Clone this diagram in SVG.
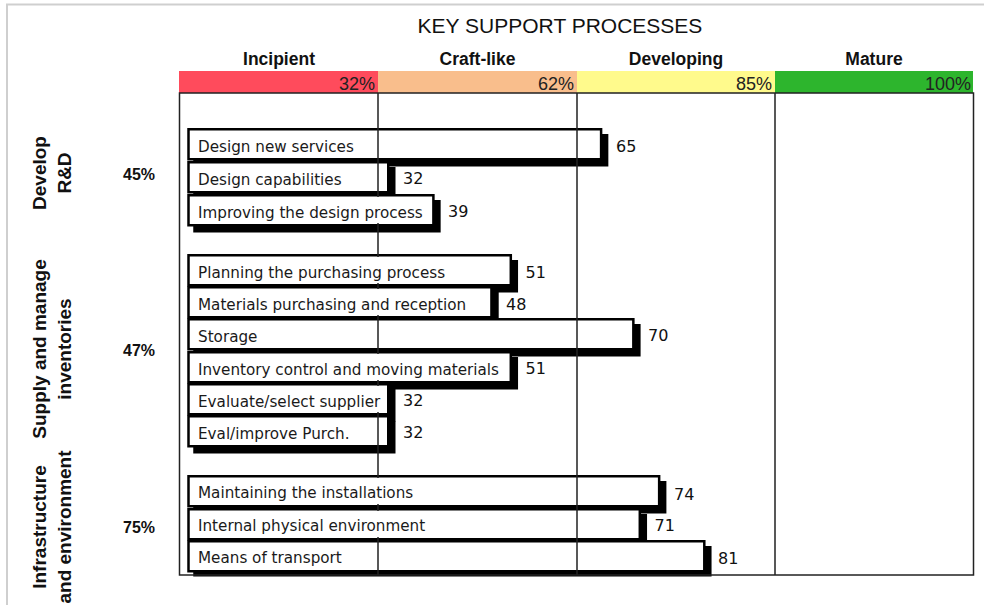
<svg xmlns="http://www.w3.org/2000/svg" width="984" height="605" viewBox="0 0 984 605">
<style>
.frame{fill:none;stroke:#cfcfcf;stroke-width:2}
.title{font-family:"Liberation Sans",Arial,sans-serif;font-size:21px;fill:#111;text-anchor:middle}
.hdr{font-family:"Liberation Sans",Arial,sans-serif;font-size:17.5px;font-weight:bold;fill:#111;text-anchor:middle}
.band{font-family:"Liberation Sans",Arial,sans-serif;font-size:18px;fill:#222;text-anchor:end}
.grp{font-family:"Liberation Sans",Arial,sans-serif;font-size:19px;font-weight:bold;fill:#111;text-anchor:middle}
.pct{font-family:"Liberation Sans",Arial,sans-serif;font-size:16px;font-weight:bold;fill:#111}
.grid{stroke:#222;stroke-width:1.5;fill:none}
.shadow{fill:#000;stroke:#000;stroke-width:2.5}
.bar{fill:#fff;stroke:#000;stroke-width:2.5}
.patch{fill:#fff}
.bt{font-family:"DejaVu Sans",Verdana,sans-serif;font-size:15.2px;fill:#1a1a1a}
.val{font-family:"DejaVu Sans",Verdana,sans-serif;font-size:16px;fill:#111}
</style>
<rect width="984" height="605" fill="#fff"/>
<path class="frame" d="M7 605V4.5H984"/>
<text class="title" x="560" y="33">KEY SUPPORT PROCESSES</text>
<g id="scale">
<rect x="179" y="71" width="199" height="22" fill="#ff4b5c"/>
<rect x="378" y="71" width="199" height="22" fill="#f9be8c"/>
<rect x="577" y="71" width="198" height="22" fill="#fffa8c"/>
<rect x="775" y="71" width="198" height="22" fill="#2db52d"/>
<text class="hdr" x="279" y="65">Incipient</text>
<text class="hdr" x="477.5" y="65">Craft-like</text>
<text class="hdr" x="676" y="65">Developing</text>
<text class="hdr" x="874" y="65">Mature</text>
<text class="band" x="375" y="90">32%</text>
<text class="band" x="574" y="90">62%</text>
<text class="band" x="772" y="90">85%</text>
<text class="band" x="971" y="90">100%</text>
</g>
<g id="groups">
<text class="grp" transform="translate(46,173) rotate(-90)">Develop</text>
<text class="grp" transform="translate(71,173) rotate(-90)">R&amp;D</text>
<text class="pct" x="123" y="180">45%</text>
<text class="grp" transform="translate(46,349) rotate(-90)">Supply and manage</text>
<text class="grp" transform="translate(71,349) rotate(-90)">inventories</text>
<text class="pct" x="123" y="356">47%</text>
<text class="grp" transform="translate(46,527) rotate(-90)">Infrastructure</text>
<text class="grp" transform="translate(71,527) rotate(-90)">and environment</text>
<text class="pct" x="123" y="533">75%</text>
</g>
<g id="bars">
<g id="b1"><rect class="shadow" x="194.5" y="135.25" width="412.6" height="30"/><rect class="bar" x="188.5" y="129.25" width="412.6" height="30"/></g>
<g id="b2"><rect class="shadow" x="194.5" y="168.25" width="199.75" height="30"/><rect class="bar" x="188.5" y="162.25" width="199.75" height="30"/></g>
<g id="b3"><rect class="shadow" x="194.5" y="201.25" width="244.9" height="30"/><rect class="bar" x="188.5" y="195.25" width="244.9" height="30"/></g>
<g id="b4"><rect class="shadow" x="194.5" y="261.25" width="322.3" height="30"/><rect class="bar" x="188.5" y="255.25" width="322.3" height="30"/></g>
<g id="b5"><rect class="shadow" x="194.5" y="293.25" width="302.95" height="30"/><rect class="bar" x="188.5" y="287.25" width="302.95" height="30"/></g>
<g id="b6"><rect class="shadow" x="194.5" y="325.25" width="444.85" height="30"/><rect class="bar" x="188.5" y="319.25" width="444.85" height="30"/></g>
<g id="b7"><rect class="shadow" x="194.5" y="358.25" width="322.3" height="30"/><rect class="bar" x="188.5" y="352.25" width="322.3" height="30"/></g>
<g id="b8"><rect class="shadow" x="194.5" y="390.25" width="199.75" height="30"/><rect class="bar" x="188.5" y="384.25" width="199.75" height="30"/></g>
<g id="b9"><rect class="shadow" x="194.5" y="422.25" width="199.75" height="30"/><rect class="bar" x="188.5" y="416.25" width="199.75" height="30"/></g>
<g id="b10"><rect class="shadow" x="194.5" y="482.25" width="470.65" height="30"/><rect class="bar" x="188.5" y="476.25" width="470.65" height="30"/></g>
<g id="b11"><rect class="shadow" x="194.5" y="515.25" width="451.3" height="30"/><rect class="bar" x="188.5" y="509.25" width="451.3" height="30"/></g>
<g id="b12"><rect class="shadow" x="194.5" y="547.25" width="515.8" height="28"/><rect class="bar" x="188.5" y="541.25" width="515.8" height="30"/></g>
</g>
<g id="connectors">
<rect class="grid" x="179.5" y="93" width="794" height="482"/>
<path class="grid" d="M378 93V575M577 93V575M775 93V575"/>
</g>
<g id="labels">
<rect class="patch" x="371" y="197" width="14" height="26"/>
<rect class="patch" x="371" y="257" width="14" height="26"/>
<rect class="patch" x="371" y="289" width="14" height="26"/>
<rect class="patch" x="371" y="354" width="14" height="26"/>
<rect class="patch" x="371" y="386" width="14" height="26"/>
<rect class="patch" x="371" y="478" width="14" height="26"/>
<rect class="patch" x="371" y="511" width="14" height="26"/>
<text class="bt" x="198" y="152">Design new services</text>
<text class="bt" x="198" y="185">Design capabilities</text>
<text class="bt" x="198" y="218">Improving the design process</text>
<text class="bt" x="198" y="278">Planning the purchasing process</text>
<text class="bt" x="198" y="310">Materials purchasing and reception</text>
<text class="bt" x="198" y="342">Storage</text>
<text class="bt" x="198" y="375">Inventory control and moving materials</text>
<text class="bt" x="198" y="407">Evaluate/select supplier</text>
<text class="bt" x="198" y="439">Eval/improve Purch.</text>
<text class="bt" x="198" y="498">Maintaining the installations</text>
<text class="bt" x="198" y="531">Internal physical environment</text>
<text class="bt" x="198" y="563">Means of transport</text>
<text class="val" x="616" y="152">65</text>
<text class="val" x="403" y="184">32</text>
<text class="val" x="448" y="217">39</text>
<text class="val" x="525.5" y="278">51</text>
<text class="val" x="506" y="310">48</text>
<text class="val" x="648" y="341">70</text>
<text class="val" x="525.5" y="374">51</text>
<text class="val" x="403" y="406">32</text>
<text class="val" x="403" y="438">32</text>
<text class="val" x="674" y="500">74</text>
<text class="val" x="654.5" y="531">71</text>
<text class="val" x="718" y="564">81</text>
</g>
</svg>
